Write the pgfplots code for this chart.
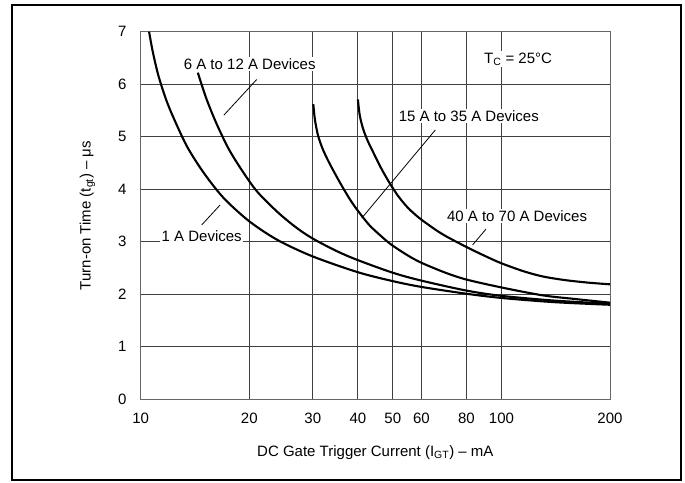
\documentclass[border=0pt]{standalone}
\usepackage{fontspec}
\setmainfont{Liberation Sans}
\usepackage{pgfplots}
\pgfplotsset{compat=1.18}

\newcommand{\chartfont}{\fontsize{15bp}{18bp}\selectfont}

\begin{document}
\begin{tikzpicture}
\useasboundingbox (-140.7bp,-83.7bp) rectangle (544.3bp,399.3bp);
\draw[line width=1.8bp] (-128.7bp,-80.7bp) rectangle (540.3bp,394.3bp);
\begin{axis}[
    at={(0,0)}, anchor=south west,
    scale only axis,
    width=469.3bp, height=367.6bp,
    xmode=log, log basis x=10,
    xmin=10, xmax=200,
    ymin=0, ymax=7,
    xtick={10,20,30,40,50,60,80,100,200},
    xticklabels={10,20,30,40,50,60,80,100,200},
    minor xtick={},
    ytick={0,1,2,3,4,5,6,7},
    major tick length=0pt,
    xmajorgrids, ymajorgrids,
    grid style={black!75, line width=0.9bp},
    axis line style={black!60, line width=0.9bp},
    tick label style={font=\chartfont},
    /pgf/number format/assume math mode=true,
    yticklabel style={anchor=east, xshift=-10.7bp},
    xticklabel style={anchor=north, yshift=-10bp},
    xlabel={DC Gate Trigger Current (I\textsubscript{GT}) – mA},
    ylabel={Turn-on Time (t\textsubscript{gt}) – μs},
    label style={font=\chartfont},
    xlabel style={at={(axis description cs:0.5,-0.1444)}, anchor=center},
    ylabel style={at={(axis description cs:-0.1135,0.5)}, anchor=center},
]
\tikzset{curve/.style={black, line width=2.1bp, smooth, tension=0.5, mark=none}}

% 1 A devices
\addplot[curve] coordinates {
    (10.55,7.0) (10.8,6.62) (11.2,6.16) (11.8,5.68) (12.5,5.27) (13.5,4.79)
    (15,4.30) (17,3.83) (20,3.39) (24,3.03) (30,2.72) (40,2.42)
    (50,2.25) (60,2.14) (80,2.01) (100,1.93) (140,1.85) (200,1.80)
};
% 6 A to 12 A devices
\addplot[curve] coordinates {
    (14.4,6.22) (15.2,5.73) (16.2,5.26) (17.5,4.78) (19,4.38) (21,3.96)
    (24,3.56) (27,3.27) (30,3.06) (35,2.82) (40,2.65) (50,2.41)
    (60,2.26) (80,2.07) (100,1.97) (140,1.88) (200,1.82)
};
% 15 A to 35 A devices
\addplot[curve] coordinates {
    (30.1,5.62) (30.4,5.33) (31.0,5.03) (31.9,4.78) (33.0,4.56) (34.3,4.34)
    (36.0,4.08) (38,3.81) (40,3.59) (43,3.32) (46,3.13)
    (49.4,2.95) (55,2.74) (60,2.60) (70,2.41) (80,2.28) (100,2.13)
    (130,1.98) (160,1.91) (200,1.84)
};
% 40 A to 70 A devices
\addplot[curve] coordinates {
    (40,5.71) (40.5,5.40) (41.4,5.14) (42.6,4.92) (44,4.72) (46,4.45)
    (48,4.22) (49.9,4.03) (52,3.85) (55,3.65) (59,3.46) (65,3.25)
    (70,3.11) (80,2.90) (90,2.73) (100,2.59) (115,2.44) (130,2.34)
    (150,2.27) (175,2.22) (200,2.19)
};

\tikzset{lbl/.style={fill=white, inner sep=1.5bp, font=\chartfont}}
\node[lbl] at (axis cs:20.05,6.38) {6 A to 12 A Devices};
\draw[line width=0.8bp] (axis cs:17.0,5.41) -- (axis cs:20.97,6.09);
\node[lbl] at (axis cs:14.76,3.11) {1 A Devices};
\draw[line width=0.8bp] (axis cs:14.76,3.32) -- (axis cs:16.6,3.70);
\node[lbl] at (axis cs:81.2,5.40) {15 A to 35 A Devices};
\draw[line width=0.8bp] (axis cs:65.6,5.13) -- (axis cs:41.0,3.45);
\node[lbl] at (axis cs:110.5,3.49) {40 A to 70 A Devices};
\draw[line width=0.8bp] (axis cs:90.6,3.24) -- (axis cs:83.2,2.94);
\node[lbl, anchor=base] at (axis cs:111.2,6.40) {T\textsubscript{C} = 25°C};
\end{axis}
\end{tikzpicture}
\end{document}
